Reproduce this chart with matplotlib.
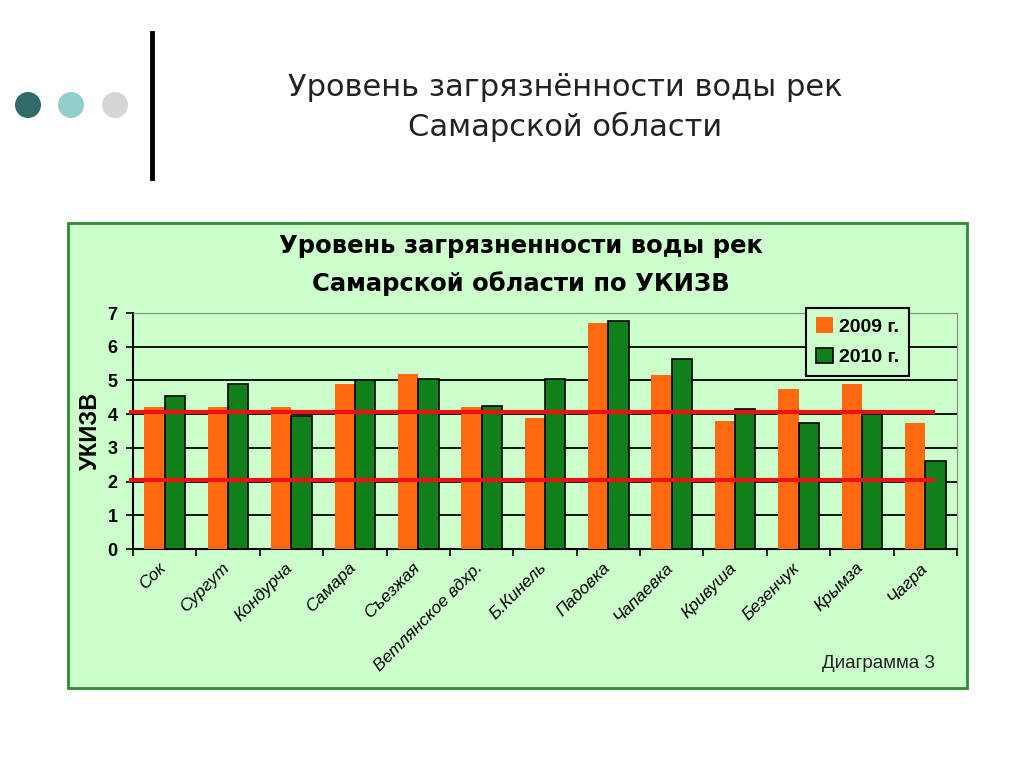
import matplotlib
matplotlib.use("Agg")
import matplotlib.pyplot as plt
import numpy as np
from matplotlib.patches import Rectangle, Ellipse
from matplotlib.lines import Line2D

plt.rcParams['font.family'] = ['Liberation Sans', 'DejaVu Sans']

categories = ["Сок", "Сургут", "Кондурча", "Самара", "Съезжая", "Ветлянское вдхр.",
              "Б.Кинель", "Падовка", "Чапаевка", "Кривуша", "Безенчук", "Крымза", "Чагра"]
v2009 = [4.2, 4.2, 4.2, 4.9, 5.2, 4.2, 3.9, 6.7, 5.15, 3.8, 4.75, 4.9, 3.75]
v2010 = [4.55, 4.9, 3.95, 5.0, 5.05, 4.25, 5.05, 6.75, 5.65, 4.15, 3.75, 4.0, 2.6]
series_labels = ["2009 г.", "2010 г."]
ref_lines = [4.05, 2.05]
yticks = [0, 1, 2, 3, 4, 5, 6, 7]

W, H = 1024, 767
fig = plt.figure(figsize=(W / 100, H / 100), dpi=100)
fig.patch.set_facecolor('white')

def fx(x):
    return x / W

def fy(y):
    return 1 - y / H

# slide decorations
for cx, col in [(28, '#2f6b68'), (71, '#92cfcc'), (115, '#d6d6d6')]:
    fig.patches.append(Ellipse((fx(cx), fy(105)), 26 / W, 26 / H, transform=fig.transFigure,
                               facecolor=col, edgecolor='none', zorder=-5))
fig.add_artist(Line2D([fx(152), fx(152)], [fy(33), fy(178)], color='black', lw=3.5))
fig.text(fx(565), fy(87), "Уровень загрязнённости воды рек", ha='center', va='center',
         fontsize=22, color='#222222', family='DejaVu Sans')
fig.text(fx(565), fy(127), "Самарской области", ha='center', va='center',
         fontsize=22, color='#222222', family='DejaVu Sans')

# chart panel
fig.patches.append(Rectangle((fx(68), fy(688)), (967 - 68) / W, (688 - 223) / H,
                             transform=fig.transFigure, facecolor='#ccffcc',
                             edgecolor='#2e8b2e', lw=2, zorder=-10))
fig.text(fx(521), fy(246), "Уровень загрязненности воды рек", ha='center', va='center',
         fontsize=17.5, fontweight='bold', family='DejaVu Sans')
fig.text(fx(521), fy(284), "Самарской области по УКИЗВ", ha='center', va='center',
         fontsize=17.5, fontweight='bold', family='DejaVu Sans')
fig.text(fx(935), fy(664), "Диаграмма 3", ha='right', va='center', fontsize=13.5, color='#222222')

ax = fig.add_axes([fx(133), fy(549), (957 - 133) / W, (549 - 313) / H])
ax.set_facecolor('#ccffcc')
x = np.arange(len(categories))
bw = 0.32
ax.bar(x - bw / 2, v2009, bw, color='#ff6a10', edgecolor='none', zorder=3, label=series_labels[0])
ax.bar(x + bw / 2, v2010, bw, color='#10801a', edgecolor='black', lw=1.2, zorder=3, label=series_labels[1])
ax.set_xlim(-0.5, len(categories) - 0.5)
ax.set_ylim(0, 7)
ax.set_yticks(yticks)
ax.yaxis.grid(True, color='black', lw=1.3, zorder=1)
ax.set_axisbelow(True)
for yv in ref_lines:
    ax.plot([-0.57, len(categories) - 0.84], [yv, yv], color='#ee1111', lw=3, zorder=4,
            solid_capstyle='butt', clip_on=False)
ax.spines['top'].set_color('#888888')
ax.spines['right'].set_color('#888888')
ax.spines['left'].set_linewidth(1.5)
ax.spines['bottom'].set_linewidth(1.5)
ax.set_xticks(np.arange(len(categories) + 1) - 0.5, minor=False)
ax.set_xticklabels([])
ax.tick_params(axis='x', direction='out', length=5, width=1.2)
ax.set_xticks(x - 0.1, minor=True)
ax.set_xticklabels(categories, minor=True, rotation=45, ha='right', rotation_mode='anchor',
                   fontstyle='italic', fontsize=12.5)
ax.tick_params(axis='x', which='minor', length=0, pad=8)
ax.tick_params(axis='y', direction='out', length=5, width=1.2, labelsize=13, pad=6)
for t in ax.get_yticklabels():
    t.set_fontweight('bold')
ax.set_ylabel("УКИЗВ", fontsize=17, fontweight='bold', labelpad=4)

leg = ax.legend(loc='upper right', bbox_to_anchor=(fx(919), fy(298)), bbox_transform=fig.transFigure,
                frameon=True, fancybox=False, edgecolor='black', facecolor='#ccffcc',
                framealpha=1, prop={'weight': 'bold', 'size': 14}, handlelength=0.85,
                handleheight=0.85, handletextpad=0.35, borderpad=0.5, labelspacing=0.6)
leg.get_frame().set_linewidth(1.5)
leg.set_zorder(10)

fig.savefig("out.png", dpi=100, facecolor='white')
